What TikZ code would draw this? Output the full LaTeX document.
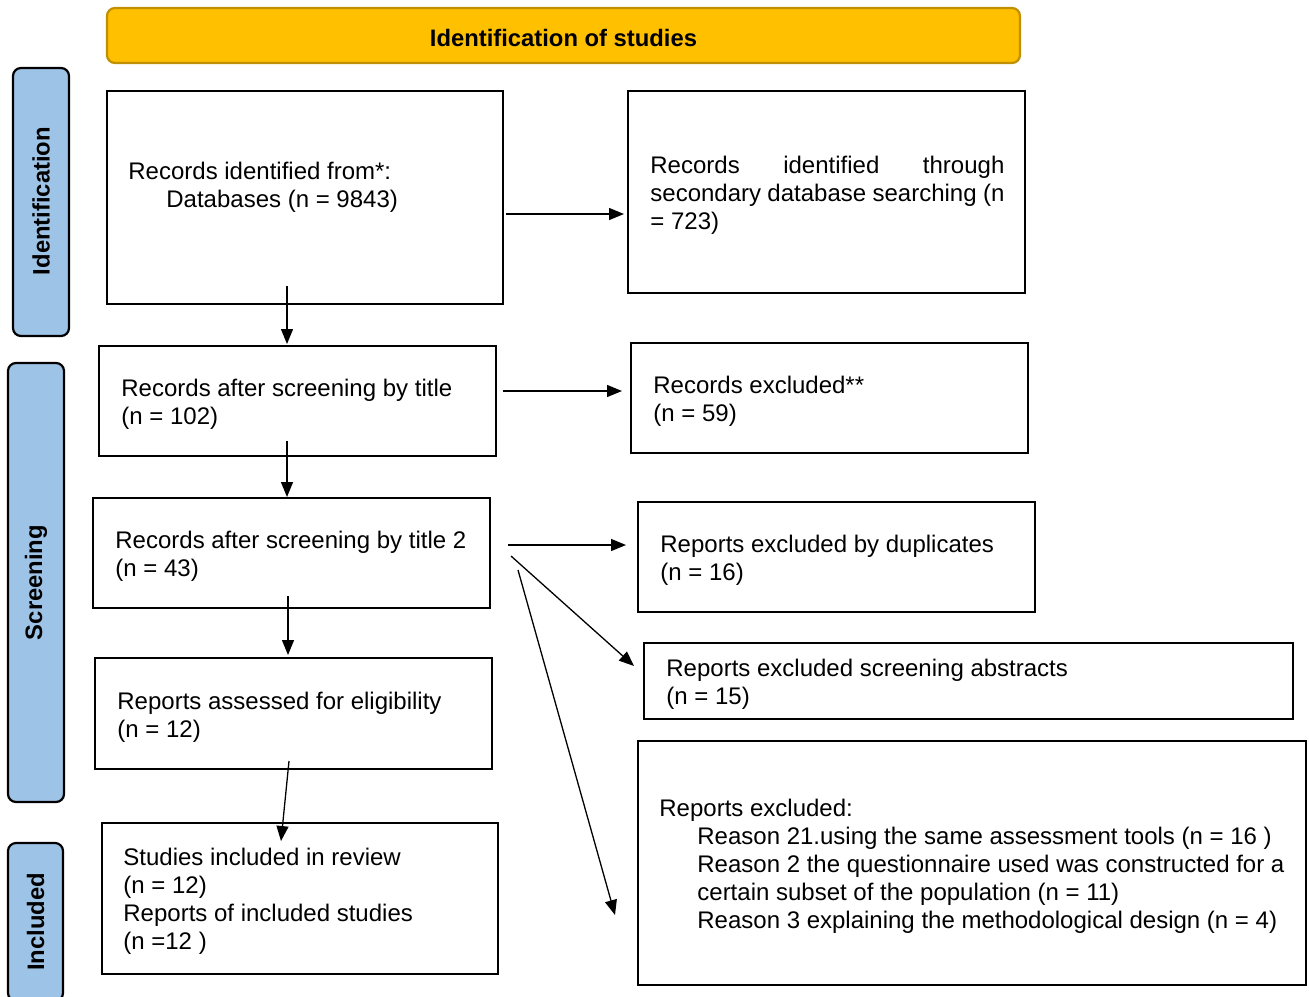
\documentclass[tikz,border=0pt]{standalone}
\usepackage{fontspec}
\setmainfont{Liberation Sans}
\usetikzlibrary{arrows.meta,calc}
\definecolor{hdrfill}{HTML}{FFC000}
\definecolor{hdrline}{HTML}{C09000}
\definecolor{sidefill}{HTML}{9DC3E6}
\tikzset{
  box/.style={draw=black, line width=1.1pt, inner sep=0pt, outer sep=0pt},
  side/.style={draw=black, line width=1.1pt, fill=sidefill, rounded corners=4pt, inner sep=0pt, outer sep=0pt},
  hdr/.style={draw=hdrline, line width=1.1pt, fill=hdrfill, rounded corners=4pt, inner sep=0pt, outer sep=0pt},
  hdrtxt/.style={inner sep=0pt, font=\fontsize{11.9pt}{14pt}\selectfont\bfseries},
  txt/.style={anchor=west, align=left, inner sep=0pt, font=\fontsize{12pt}{14pt}\selectfont},
  sidetxt/.style={rotate=90, inner sep=0pt, font=\fontsize{11.9pt}{14pt}\selectfont\bfseries},
  arr/.style={line width=0.65pt, -{Triangle[length=7.5pt,width=6pt]}}
}
\begin{document}
\begin{tikzpicture}[x=0.5pt,y=-0.5pt]
\useasboundingbox (0,0) rectangle (1309,996);
\begin{scope}
\clip (0,0) rectangle (1309,996);
% header
\node[hdr, minimum width=456.5pt, minimum height=27.5pt] (hdr) at (563.5,35.5) {};
\node[hdrtxt] (hdrt) at (563.5,37.5) {Identification of studies};
% side labels
\node[side, minimum width=28pt, minimum height=134pt] (s1) at (41,202) {};
\node[sidetxt] (s1t) at (41,201) {Identification};
\node[side, minimum width=28pt, minimum height=219.5pt] (s2) at (36,582.5) {};
\node[sidetxt] (s2t) at (36,582.5) {Screening};
\node[side, minimum width=27.5pt, minimum height=79pt] (s3) at (35.5,922) {};
\node[sidetxt] (s3t) at (35.5,922) {Included};
% boxes
\node[box, minimum width=198pt, minimum height=106.5pt] (b1) at (305,197.5) {};
\node[box, minimum width=198.5pt, minimum height=101pt] (b2) at (826.5,192) {};
\node[box, minimum width=198.5pt, minimum height=55pt] (b3) at (297.5,401) {};
\node[box, minimum width=198.5pt, minimum height=55pt] (b4) at (829.5,398) {};
\node[box, minimum width=198.5pt, minimum height=55pt] (b5) at (291.5,553) {};
\node[box, minimum width=198.5pt, minimum height=55pt] (b6) at (836.5,557) {};
\node[box, minimum width=198.5pt, minimum height=55.5pt] (b7) at (293.5,713.5) {};
\node[box, minimum width=324.5pt, minimum height=38pt] (b8) at (968.5,681) {};
\node[box, minimum width=334pt, minimum height=122pt] (b9) at (972,863) {};
\node[box, minimum width=198pt, minimum height=75.5pt] (b10) at (300,898.5) {};
% texts
\node[txt] (t1) at (128,187) {Records identified from*:\\\hspace*{19pt}Databases (n = 9843)};
\node[txt, align=justify, text width=177pt] (t2) at (650,195) {Records identified through\linebreak secondary database searching (n\linebreak = 723)};
\node[txt] (t3) at (121,404.5) {Records after screening by title\\(n = 102)};
\node[txt] (t4) at (653,401) {Records excluded**\\(n = 59)};
\node[txt] (t5) at (115,556.5) {Records after screening by title 2\\(n = 43)};
\node[txt] (t6) at (660,560.5) {Reports excluded by duplicates\\(n = 16)};
\node[txt] (t7) at (117,717) {Reports assessed for eligibility\\(n = 12)};
\node[txt] (t8) at (666,684.5) {Reports excluded screening abstracts\\(n = 15)};
\node[txt] (t9) at (659,866) {Reports excluded:\\
\hspace*{19pt}Reason 21.using the same assessment tools (n = 16 )\\
\hspace*{19pt}Reason 2 the questionnaire used was constructed for a\\
\hspace*{19pt}certain subset of the population (n = 11)\\
\hspace*{19pt}Reason 3 explaining the methodological design (n = 4)};
\node[txt] (t10) at (123,901.5) {Studies included in review\\(n = 12)\\Reports of included studies\\(n =12 )};
% arrows
\draw[arr] ([shift={(3,16.5)}]b1.east) -- ([shift={(-4,22)}]b2.west);
\draw[arr] ([shift={(-18,-18)}]b1.south) -- ([shift={(-10.5,-2)}]b3.north);
\draw[arr] ([shift={(7,-10)}]b3.east) -- ([shift={(-9,-7)}]b4.west);
\draw[arr] ([shift={(-10.5,-15)}]b3.south) -- ([shift={(-4.5,-1)}]b5.north);
\draw[arr] ([shift={(18,-8)}]b5.east) -- ([shift={(-12,-12)}]b6.west);
\draw[arr] ([shift={(21,3)}]b5.east) -- ([shift={(-10,-15)}]b8.west);
\draw[arr] ([shift={(28,17)}]b5.east) -- ([shift={(-23,52)}]b9.west);
\draw[arr] ([shift={(-3.5,-12)}]b5.south) -- ([shift={(-5.5,-3)}]b7.north);
\draw[arr] ([shift={(-4.5,-8)}]b7.south) -- ([shift={(-19,18)}]b10.north);
\end{scope}
\end{tikzpicture}
\end{document}
